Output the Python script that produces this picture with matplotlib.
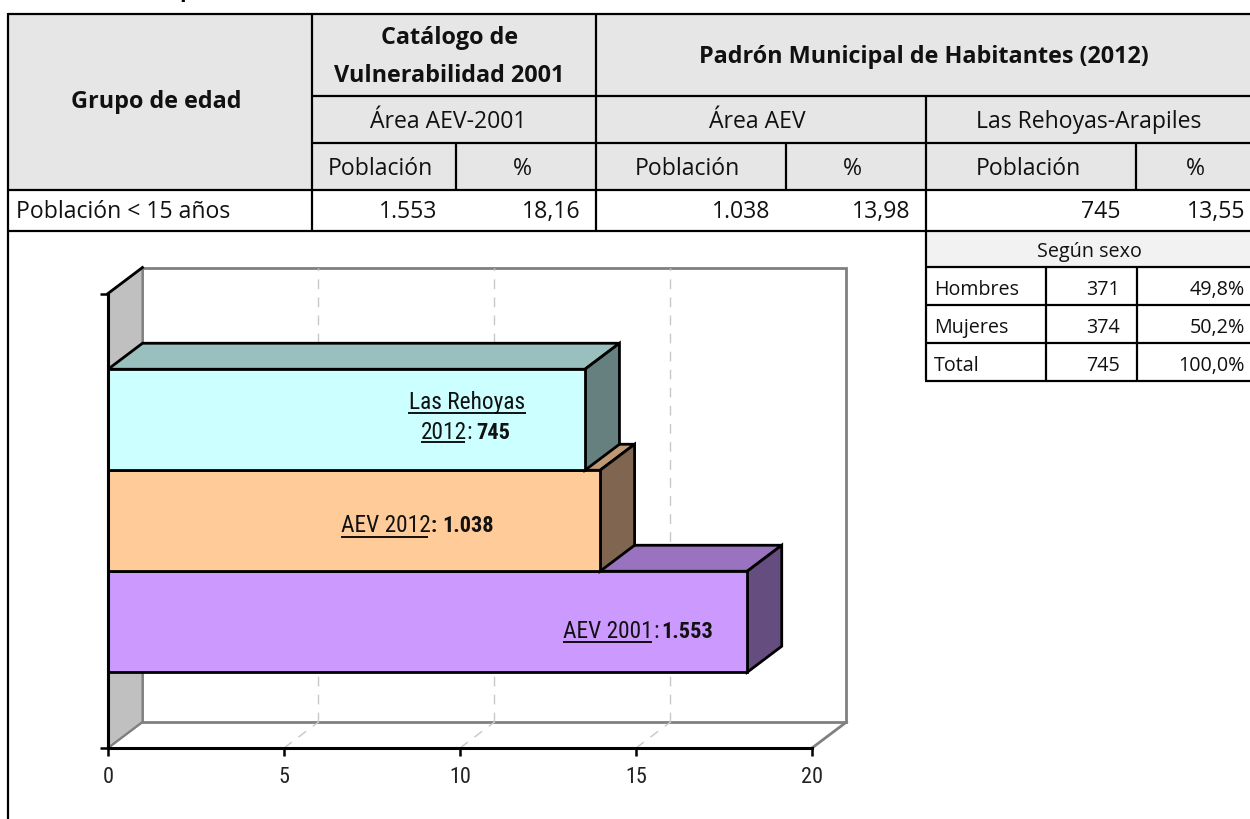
import numpy as np
import matplotlib
matplotlib.use("Agg")
import matplotlib.pyplot as plt
from matplotlib.patches import Polygon, Rectangle

# datos
bar_values = [18.16, 13.98, 13.55]
bar_colors = ["#CC99FF", "#FFCC99", "#CCFFFF"]
top_colors = ["#9973BF", "#BF9973", "#99BFBF"]
side_colors = ["#664D80", "#806650", "#668080"]
x_ticks = [0, 5, 10, 15, 20]

col_labels = ["Población", "%"]
row_label = "Población < 15 años"
row_values = ["1.553", "18,16", "1.038", "13,98", "745", "13,55"]
sex_rows = ["Hombres", "Mujeres", "Total"]
sex_counts = ["371", "374", "745"]
sex_pcts = ["49,8%", "50,2%", "100,0%"]

table_font = "Open Sans"
narrow_font = "Roboto Condensed"

fig = plt.figure(figsize=(12.5, 8.2), dpi=100)
ov = fig.add_axes([0, 0, 1, 1])
ov.set_xlim(0, 1250)
ov.set_ylim(820, 0)
ov.axis("off")


def hline(y, x0, x1, lw=1.6):
    ov.plot([x0, x1], [y, y], color="black", lw=lw, solid_capstyle="butt")


def vline(x, y0, y1, lw=1.6):
    ov.plot([x, x], [y0, y1], color="black", lw=lw, solid_capstyle="butt")


def cell(x, y, s, ha="center", size=16.6, weight="normal"):
    ov.text(x, y, s, ha=ha, va="baseline", fontsize=size, fontweight=weight,
            family=table_font, color="#111111")


# cabecera
ov.add_patch(Rectangle((8, 14), 1242, 176, fc="#E6E6E6", ec="none"))
ov.add_patch(Rectangle((926, 231), 324, 36, fc="#F2F2F2", ec="none"))
hline(14.5, 8, 1250)
hline(97, 312, 1250)
hline(144, 312, 1250)
hline(190.5, 8, 1250)
hline(231.5, 8, 1250)
hline(267.5, 926, 1250)
hline(305.5, 926, 1250)
hline(343.5, 926, 1250)
hline(381.5, 925, 1250)
vline(8, 14, 820)
vline(312, 14, 231)
vline(596, 14, 231)
vline(926, 97, 381)
for x in [456, 786, 1136]:
    vline(x, 144, 190)
vline(1045.5, 267, 381)
vline(1137, 267, 381)

ov.text(179, -3, "p", family=table_font, fontsize=15.6, fontweight="bold", va="baseline", ha="left")
cell(156, 108, "Grupo de edad", size=16.8, weight="bold")
cell(450, 44, "Catálogo de", size=16.8, weight="bold")
cell(449, 82, "Vulnerabilidad 2001", size=16.8, weight="bold")
cell(924, 63, "Padrón Municipal de Habitantes (2012)", size=16.8, weight="bold")
cell(448, 128, "Área AEV-2001")
cell(757, 128, "Área AEV")
cell(1089, 128, "Las Rehoyas-Arapiles")
for x, s in zip([380, 522, 687, 852, 1028, 1195], col_labels * 3):
    cell(x, 175, s)
cell(16, 218, row_label, ha="left")
for x, s in zip([437, 581, 770, 911, 1121, 1245], row_values):
    cell(x, 218, s, ha="right")

cell(1089, 257, "Según sexo", size=14.2)
for i, y in enumerate([295, 333, 371]):
    cell(934, y, sex_rows[i], ha="left", size=14.2)
    cell(1120, y, sex_counts[i], ha="right", size=14.2)
    cell(1245, y, sex_pcts[i], ha="right", size=14.2)

# grafico
ax = fig.add_axes([108 / 1250, 1 - 749 / 820, (812 - 108) / 1250, (749 - 294.5) / 820])
ax.patch.set_alpha(0)
ax.set_xlim(0, 20)
ax.set_ylim(-1.25, 3.25)
dx = 0.98
dy = 26 / 101

y0, y1 = ax.get_ylim()
ax.add_patch(Polygon([(0, y0), (dx, y0 + dy), (dx, y1 + dy), (0, y1)], closed=True,
                     fc="#C0C0C0", ec="#808080", lw=1.5, clip_on=False, zorder=0.2))
ax.add_patch(Rectangle((dx, y0 + dy), 20, y1 - y0, fc="white", ec="#808080", lw=2, clip_on=False, zorder=0.1))
ax.plot([20, 20 + dx], [y0, y0 + dy], color="#808080", lw=2, clip_on=False, zorder=0.3)
ax.plot([0, dx], [y1, y1 + dy], color="black", lw=2, clip_on=False, zorder=0.3)
ax.plot([0, dx], [y0, y0 + dy], color="#808080", lw=1.5, clip_on=False, zorder=0.3)
for t in x_ticks[1:-1]:
    ax.plot([t + dx, t + dx], [y0 + dy, y1 + dy], color="#C8C8C8", lw=1, ls=(0, (7, 6)), clip_on=False, zorder=0.5)
    ax.plot([t, t + dx], [y0, y0 + dy], color="#C8C8C8", lw=1, ls=(0, (7, 6)), clip_on=False, zorder=0.5)

h = 1.0
for i, v in enumerate(bar_values):
    b = i - h / 2
    ax.add_patch(Polygon([(0, b + h), (dx, b + h + dy), (v + dx, b + h + dy), (v, b + h)], closed=True,
                         fc=top_colors[i], ec="black", lw=2, clip_on=False))
    ax.add_patch(Polygon([(v, b), (v + dx, b + dy), (v + dx, b + h + dy), (v, b + h)], closed=True,
                         fc=side_colors[i], ec="black", lw=2, clip_on=False))
    ax.barh(i, v, height=h, color=bar_colors[i], edgecolor="black", linewidth=2, clip_on=False)

ax.set_xticks(x_ticks)
ax.set_yticks([y0, y1])
ax.set_yticklabels([])
for s in ["top", "right"]:
    ax.spines[s].set_visible(False)
for s in ["left", "bottom"]:
    ax.spines[s].set_linewidth(2.2)
ax.tick_params(axis="both", length=6, width=1.8, color="black")
ax.tick_params(axis="x", pad=7)
for lab in ax.get_xticklabels():
    lab.set_family(narrow_font)
    lab.set_fontsize(16)
    lab.set_color("#222222")


# etiquetas de barras
def chart_text(x, y, s, weight="normal", ha="left"):
    size = 16 if weight == "bold" else 16.8
    ov.text(x, y, s, ha=ha, va="baseline", fontsize=size, fontweight=weight,
            family=narrow_font, color="#111111", zorder=10)


def under(x0, x1, y):
    ov.plot([x0, x1], [y, y], color="black", lw=1.3, zorder=10, solid_capstyle="butt")


ov.set_zorder(5)
ov.patch.set_alpha(0)
chart_text(467, 409, "Las Rehoyas", ha="center")
under(408, 526, 413.5)
chart_text(421, 439, "2012")
under(421, 465, 443)
chart_text(466, 439, ":")
chart_text(476, 439, "745", weight="bold")
chart_text(341, 532, "AEV 2012")
under(341, 428, 538)
chart_text(431, 532, ":", weight="bold")
chart_text(442, 532, "1.038", weight="bold")
chart_text(563, 638, "AEV 2001")
under(563, 652, 642.5)
chart_text(653, 638, ":")
chart_text(661, 638, "1.553", weight="bold")

fig.savefig("out.png", dpi=100)
